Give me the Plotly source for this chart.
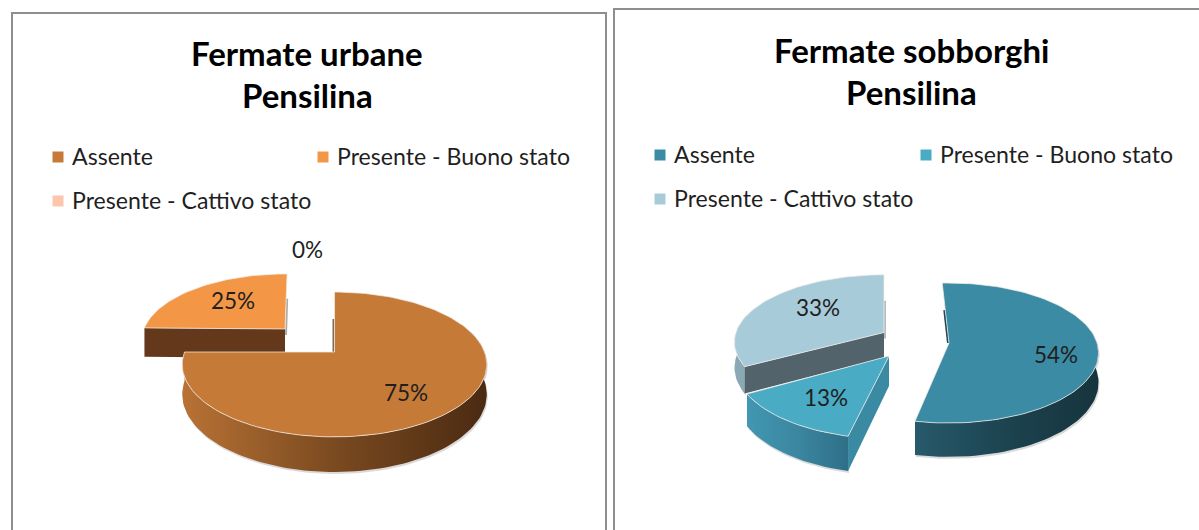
import math
import plotly.graph_objects as go

categories = ["Assente", "Presente - Buono stato", "Presente - Cattivo stato"]
urbane_values = [75, 25, 0]
sobborghi_values = [54, 13, 33]
urbane_title = ["Fermate urbane", "Pensilina"]
sobborghi_title = ["Fermate sobborghi", "Pensilina"]

FONT = "Lato"
TEXT = "#1f1f1f"

URBANE_COLORS = ["#c67a37", "#f39746", "#fdc5ab"]
SOBBORGHI_COLORS = ["#3b8ba4", "#4aabc5", "#a8cbda"]

# Projection of each pie wedge: apex, horizontal radius, depth radius, perspective, thickness
URBANE_STYLE = [
    dict(ax=334.5, ay=352, R=150, S=70.3, k=0.172, d=29, rot=0,
         rim=("#b87234", "#7a4a20", "#4b2a12"), wall=None, label=(406, 393), sliver="#7a6a58"),
    dict(ax=285, ay=329, R=141, S=64.5, k=0.172, d=29, rot=1,
         rim=None, wall="#63381b", label=(233, 301), sliver="#b0aaa4"),
    dict(ax=0, ay=0, R=0, S=0, k=0, d=0, rot=0, rim=None, wall=None, label=(307, 250), sliver=None),
]
SOBBORGHI_STYLE = [
    dict(ax=949, ay=343, R=148, S=68.6, k=0.143, d=29, rot=-3,
         rim=("#275a6b", "#1c4350", "#16343d"), wall=None, label=(1056, 355), sliver="#1f4a58"),
    dict(ax=889, ay=356, R=152, S=71, k=0.143, d=30, rot=-1,
         rim=("#4297b2", "#3b86a0", "#2f6f88"), wall="#3a8aa3", label=(826, 398), sliver=None),
    dict(ax=884, ay=332.5, R=148, S=66, k=0.143, d=25, rot=0,
         rim=("#8aa9b5", "#8aa9b5", "#8aa9b5"), wall="#52636b", label=(818, 308), sliver="#b4bcc0"),
]


def proj(theta_deg, s, radius=1.0):
    t = math.radians(theta_deg)
    u, v = radius * math.sin(t), -radius * math.cos(t)
    p = 1 / (1 - s["k"] * v)
    return s["ax"] + s["R"] * u * p, s["ay"] + s["S"] * v * p, s["d"] * p


def frange(a, b, step=2.0):
    n = max(2, int(abs(b - a) / step) + 1)
    return [a + (b - a) * i / (n - 1) for i in range(n)]


fig = go.Figure()


def polygon(xs, ys, color=None, gradient=None, line=None):
    kw = dict(x=xs, y=ys, mode="lines", fill="toself", hoverinfo="skip", showlegend=False)
    kw["line"] = line or dict(width=0, color="rgba(0,0,0,0)")
    if gradient:
        kw["fillgradient"] = gradient
    else:
        kw["fillcolor"] = color
    fig.add_trace(go.Scatter(**kw))


def draw_pie(values, styles, colors, order):
    total = sum(values)
    ranges, cum = [], 0.0
    for v in values:
        ranges.append((cum * 360 / total, (cum + v) * 360 / total))
        cum += v
    for i in order:
        if values[i] == 0:
            continue
        s = styles[i]
        a, b = ranges[i][0] + s["rot"], ranges[i][1] + s["rot"]
        # outer rim, only the part that faces the viewer
        lo, hi = max(a, 65), min(b, 285)
        if s["rim"] and hi > lo:
            pts = [proj(t, s) for t in frange(lo, hi)]
            xs = [p[0] for p in pts] + [p[0] for p in reversed(pts)]
            ys = [p[1] for p in pts] + [p[1] + p[2] for p in reversed(pts)]
            # soft shadow below the rim
            polygon([x + 1 for x in xs], [y + 2 for y in ys], color="rgba(150,150,150,0.35)")
            grad = dict(type="horizontal", start=min(xs), stop=max(xs),
                        colorscale=[[0, s["rim"][0]], [0.5, s["rim"][1]], [1, s["rim"][2]]])
            polygon(xs, ys, gradient=grad)
        # flat cut wall along the first radial edge of the wedge
        if s["wall"]:
            ap = (s["ax"], s["ay"], s["d"])
            c = proj(a, s)
            polygon([ap[0], c[0], c[0], ap[0]],
                    [ap[1], c[1], c[1] + c[2], ap[1] + ap[2]], color=s["wall"])
        # thin shaded edge beside the closing/opening radial
        if s["sliver"]:
            e = proj(a if a % 360 < 10 or a < 10 else b, s)
            fig.add_trace(go.Scatter(
                x=[s["ax"] + 1 * (1 if i else -1), e[0] * 0.55 + s["ax"] * 0.45 + (1 if i else -1)],
                y=[s["ay"] + (6 if i else 0), e[1] * 0.55 + s["ay"] * 0.45],
                mode="lines", line=dict(color=s["sliver"], width=2),
                hoverinfo="skip", showlegend=False))
        # top face
        pts = [proj(t, s) for t in frange(a, b)]
        xs = [s["ax"]] + [p[0] for p in pts] + [s["ax"]]
        ys = [s["ay"]] + [p[1] for p in pts] + [s["ay"]]
        polygon(xs, ys, color=colors[i], line=dict(width=1, color="rgba(240,236,230,0.75)"))


draw_pie(urbane_values, URBANE_STYLE, URBANE_COLORS, [1, 0])
draw_pie(sobborghi_values, SOBBORGHI_STYLE, SOBBORGHI_COLORS, [2, 1, 0])

annotations = []


def text_at(x, y, text, size, bold=False, anchor="center"):
    annotations.append(dict(
        x=x, y=y - 1, xref="x", yref="y", text=f"<b>{text}</b>" if bold else text,
        showarrow=False, xanchor=anchor, yanchor="middle",
        font=dict(family=FONT, size=size, color="#000000" if bold else TEXT)))


def draw_legend(colors, slots):
    for name, color, (sx, sy) in zip(categories, colors, slots):
        fig.add_trace(go.Scatter(
            x=[sx], y=[sy], mode="markers", hoverinfo="skip", showlegend=False,
            marker=dict(symbol="square", size=11, color=color)))
        text_at(sx + 12, sy, name, 23.1, anchor="left")


# Titles
for j, line in enumerate(urbane_title):
    text_at(307, 54 + 42 * j, line, 33, bold=True)
for j, line in enumerate(sobborghi_title):
    text_at(911, 51 + 42 * j, line, 33, bold=True)

# Legends
draw_legend(URBANE_COLORS, [(58, 157), (323, 157), (58, 201)])
draw_legend(SOBBORGHI_COLORS, [(660, 155), (926, 155), (660, 199)])

# Data labels
for vals, styles in ((urbane_values, URBANE_STYLE), (sobborghi_values, SOBBORGHI_STYLE)):
    for v, s in zip(vals, styles):
        text_at(s["label"][0], s["label"][1], f"{v}%", 22.5)

panel = dict(type="rect", xref="x", yref="y", line=dict(color="#8e8e8e", width=2), layer="below")
fig.update_layout(
    width=1199, height=530, autosize=False,
    margin=dict(l=0, r=0, t=0, b=0),
    paper_bgcolor="#ffffff", plot_bgcolor="#ffffff",
    showlegend=False,
    xaxis=dict(range=[0, 1199], visible=False, fixedrange=True),
    yaxis=dict(range=[530, 0], visible=False, fixedrange=True),
    shapes=[
        dict(panel, x0=12, x1=606, y0=13, y1=545),
        dict(panel, x0=614, x1=1215, y0=9, y1=545),
    ],
    annotations=annotations,
)
fig.write_html("out.html", config={"displayModeBar": False},
               post_script="document.body.style.margin='0';document.documentElement.style.overflow='hidden';")
